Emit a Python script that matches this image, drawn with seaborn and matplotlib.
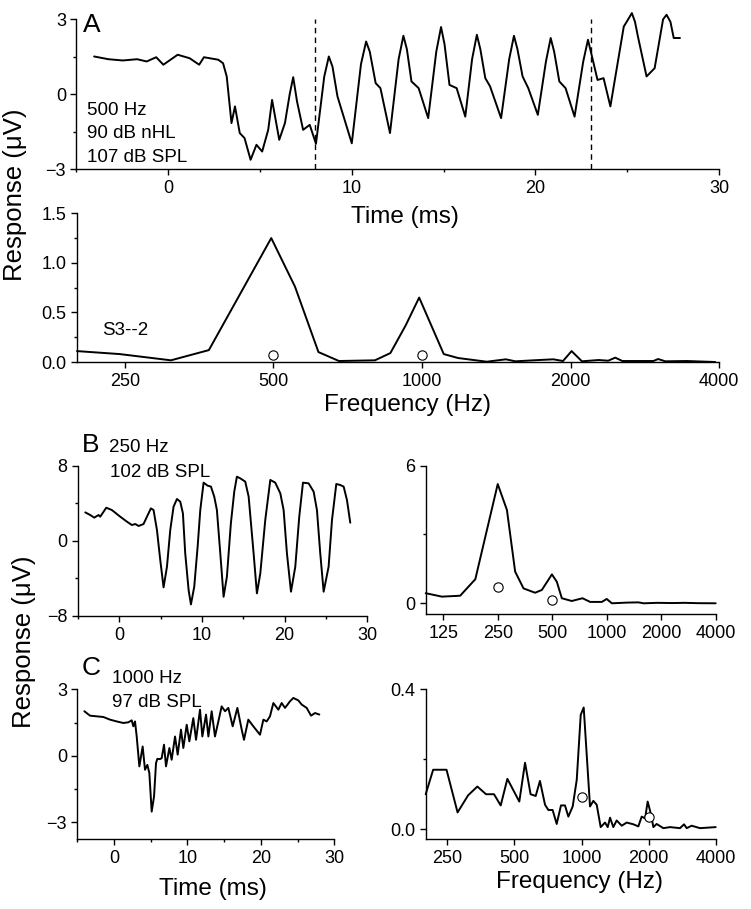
import numpy as np
import pandas as pd
import matplotlib
matplotlib.use("Agg")
import matplotlib.pyplot as plt
from matplotlib.ticker import NullLocator, FixedLocator
import seaborn as sns

# ---------------- data ----------------
# Panel A: 500 Hz waveform
a_time = [-4.03, -3.25, -2.47, -1.69, -1.17, -0.65, -0.26, 0.52, 1.17, 1.69, 1.95, 2.73, 2.99, 3.19, 3.45,
          3.64, 3.9, 4.16, 4.49, 4.81, 5.12, 5.45, 5.66, 6.05, 6.36, 6.62, 6.81, 7.02, 7.35, 7.71, 8.05,
          8.5, 8.75, 8.95, 9.22, 10.0, 10.5, 10.78, 10.98, 11.3, 11.56, 12.08, 12.55, 12.81, 13.0, 13.25,
          13.64, 14.16, 14.6, 14.86, 15.05, 15.32, 15.71, 16.18, 16.55, 16.81, 17.0, 17.27, 17.53, 18.13,
          18.57, 18.83, 19.02, 19.3, 19.61, 20.13, 20.57, 20.83, 21.02, 21.3, 21.64, 22.13, 22.6, 22.86,
          23.05, 23.38, 23.71, 24.08, 24.81, 25.05, 25.25, 25.42, 25.58, 26.05, 26.49, 26.95, 27.14, 27.35,
          27.53, 27.87]
a_resp = [1.51, 1.40, 1.35, 1.40, 1.31, 1.48, 1.18, 1.58, 1.44, 1.18, 1.48, 1.38, 1.24, 0.71, -1.16,
          -0.49, -1.56, -1.76, -2.63, -2.03, -2.30, -1.43, -0.23, -1.83, -1.16, 0.0, 0.68, -0.3, -1.43,
          -1.23, -1.99, 0.7, 1.51, 1.1, -0.09, -1.97, 1.2, 2.11, 1.7, 0.44, 0.24, -1.56, 1.4, 2.34, 1.8,
          0.51, 0.24, -0.96, 1.7, 2.69, 2.0, 0.37, 0.24, -0.90, 1.4, 2.38, 1.8, 0.64, 0.31, -0.96, 1.4,
          2.34, 1.8, 0.71, 0.24, -0.83, 1.3, 2.25, 1.7, 0.51, 0.24, -0.90, 1.3, 2.18, 1.6, 0.57, 0.64,
          -0.49, 2.71, 3.0, 3.25, 2.9, 2.31, 0.71, 1.04, 3.0, 3.18, 2.9, 2.25, 2.25]
a_window = [8, 23]

# Panel A: spectrum
a_freq = [200, 244, 310, 370, 495, 553, 617, 679, 803, 863, 927, 987, 1107, 1184, 1353, 1479, 1546,
          1727, 1846, 1931, 2010, 2109, 2280, 2384, 2464, 2547, 2944, 3010, 3112, 3439, 3929]
a_amp = [0.11, 0.08, 0.017, 0.12, 1.25, 0.76, 0.10, 0.01, 0.017, 0.09, 0.37, 0.65, 0.08, 0.04, 0.003,
         0.027, 0.007, 0.02, 0.027, 0.01, 0.11, 0.007, 0.02, 0.013, 0.044, 0.01, 0.01, 0.03, 0.007, 0.01, 0.0]
a_noise_freq = [500, 1000]
a_noise_amp = [0.07, 0.07]

# Panel B: 250 Hz waveform
b_time = [-4.11, -3.51, -3.02, -2.5, -2.3, -1.57, -0.89, 0.12, 0.93, 1.53, 1.94, 2.34, 2.94, 3.35, 3.83,
          4.15, 4.56, 4.96, 5.36, 5.77, 6.17, 6.57, 6.98, 7.38, 7.7, 7.98, 8.39, 8.67, 9.07, 9.48, 9.8,
          10.2, 10.69, 11.09, 11.49, 11.81, 12.22, 12.62, 13.02, 13.5, 13.91, 14.23, 14.64, 15.24, 15.65,
          16.25, 16.65, 17.06, 17.66, 18.27, 18.87, 19.48, 19.88, 20.28, 20.77, 21.29, 21.77, 22.22, 22.9,
          23.51, 23.91, 24.31, 24.72, 25.32, 25.73, 26.25, 26.73, 27.14, 27.54, 27.94]
b_resp = [3.02, 2.74, 2.46, 2.74, 2.56, 3.52, 3.27, 2.56, 2.03, 1.67, 1.78, 1.57, 1.78, 2.56, 3.45,
          3.27, 1.14, -2.06, -4.98, -2.78, 1.14, 3.63, 4.45, 4.16, 2.92, -1.35, -5.27, -6.80, -4.91, -0.64,
          3.27, 6.19, 5.87, 5.77, 4.70, 3.27, -1.35, -5.98, -3.84, 1.85, 5.23, 6.83, 6.65, 6.30, 4.70,
          -1.35, -5.62, -3.49, 2.21, 6.48, 6.19, 5.05, 3.27, -1.35, -5.44, -2.78, 2.56, 6.19, 6.12, 5.23,
          3.27, -1.35, -5.44, -2.78, 2.21, 6.05, 5.94, 5.77, 4.34, 1.92]

# Panel B: spectrum
b_freq = [100, 123, 155, 188, 250, 281, 312, 347, 402, 438, 498, 530, 565, 641, 735, 810, 940, 1000,
          1067, 1291, 1497, 1600, 1900, 2300, 2700, 3200, 4000]
b_amp = [0.44, 0.29, 0.33, 1.05, 5.20, 4.07, 1.38, 0.65, 0.46, 0.58, 1.26, 0.94, 0.22, 0.10, 0.22, 0.06,
         0.06, 0.19, 0.0, 0.03, 0.04, 0.0, 0.02, 0.01, 0.02, 0.005, 0.0]
b_noise_freq = [250, 500]
b_noise_amp = [0.73, 0.15]

# Panel C: 1000 Hz waveform
c_time = [-4.04, -3.27, -2.36, -1.45, -0.54, 0.36, 1.27, 1.95, 2.41, 2.63, 2.86, 3.09, 3.45, 3.9, 4.22,
          4.54, 4.81, 5.13, 5.45, 5.72, 5.9, 6.26, 6.49, 6.81, 7.08, 7.54, 7.85, 8.31, 8.67, 9.12, 9.44,
          9.9, 10.26, 10.8, 11.17, 11.71, 12.03, 12.53, 12.85, 13.3, 13.75, 14.21, 14.66, 15.12, 15.57,
          16.16, 16.8, 17.39, 17.7, 18.29, 18.97, 19.88, 20.34, 20.79, 21.24, 21.7, 22.38, 22.83, 23.29,
          23.97, 24.42, 25.1, 25.56, 26.24, 26.83, 27.37, 27.96]
c_resp = [2.01, 1.81, 1.78, 1.75, 1.63, 1.55, 1.48, 1.51, 1.60, 1.33, 1.55, 0.87, -0.48, 0.42, -0.63,
          -0.41, -0.78, -2.52, -1.84, -0.33, -0.14, -0.15, -0.11, 0.50, -0.48, 0.35, -0.18, 0.87, 0.05,
          1.18, 0.35, 1.40, 0.65, 1.70, 0.72, 2.08, 0.87, 1.86, 0.87, 2.01, 0.87, 1.55, 2.23, 2.01, 2.16,
          1.33, 2.16, 1.18, 0.72, 1.63, 1.33, 0.95, 1.63, 1.55, 1.78, 2.38, 2.08, 2.38, 2.16, 2.46, 2.61,
          2.50, 2.31, 2.16, 1.81, 1.93, 1.86]

# Panel C: spectrum
c_freq = [200, 216, 248, 278, 310, 341, 373, 405, 434, 465, 526, 558, 591, 623, 651, 686, 710, 742, 774,
          809, 843, 873, 913, 952, 992, 1023, 1092, 1130, 1170, 1219, 1275, 1311, 1343, 1389, 1438, 1515,
          1595, 1709, 1799, 1862, 1928, 1981, 2043, 2101, 2173, 2329, 2495, 2767, 2884, 2965, 3121, 3400, 4000]
c_amp = [0.10, 0.17, 0.17, 0.048, 0.097, 0.122, 0.10, 0.10, 0.068, 0.144, 0.079, 0.19, 0.10, 0.095,
         0.138, 0.070, 0.055, 0.055, 0.015, 0.068, 0.068, 0.036, 0.065, 0.141, 0.327, 0.348, 0.065, 0.081,
         0.07, 0.006, 0.019, 0.006, 0.033, 0.006, 0.025, 0.010, 0.019, 0.014, 0.008, 0.036, 0.031, 0.079,
         0.046, 0.006, 0.015, 0.003, 0.006, 0.003, 0.014, 0.003, 0.010, 0.003, 0.006]
c_noise_freq = [1000, 2000]
c_noise_amp = [0.093, 0.036]

freq_ticks_a = [250, 500, 1000, 2000, 4000]
freq_ticks_b = [125, 250, 500, 1000, 2000, 4000]

# ---------------- style ----------------
sns.set_style("ticks")
plt.rcParams['font.family'] = ['Liberation Sans', 'DejaVu Sans']
plt.rcParams.update({
    'axes.linewidth': 1.0,
    'xtick.major.width': 1.0, 'ytick.major.width': 1.0,
    'xtick.minor.width': 1.0, 'ytick.minor.width': 1.0,
    'xtick.major.size': 4.5, 'ytick.major.size': 4.5,
    'xtick.minor.size': 2.5, 'ytick.minor.size': 2.5,
    'xtick.color': 'black', 'ytick.color': 'black',
    'xtick.labelcolor': 'black', 'ytick.labelcolor': 'black',
    'axes.edgecolor': 'black', 'text.color': 'black', 'axes.labelcolor': 'black',
})

W, H = 751, 909
fig = plt.figure(figsize=(W / 100, H / 100), dpi=100)


def add_ax(x0, y0, x1, y1):
    return fig.add_axes([x0 / W, 1 - y1 / H, (x1 - x0) / W, (y1 - y0) / H])


def ftext(x, y, s, **kw):
    fig.text(x / W, 1 - y / H, s, color='black', **kw)


LW = 1.4
TICK_FS = 13


def style_ax(ax):
    sns.despine(ax=ax)
    ax.tick_params(axis='both', which='both', direction='out', labelsize=TICK_FS,
                   colors='black', labelcolor='black')
    ax.tick_params(axis='x', pad=3.5)
    ax.tick_params(axis='y', pad=3)


def wave_ax(ax, t, r, ylim, ymaj, ymin):
    df = pd.DataFrame({'t': t, 'r': r})
    sns.lineplot(data=df, x='t', y='r', ax=ax, color='black', lw=LW, clip_on=False)
    ax.set_xlim(-5, 30)
    ax.set_ylim(*ylim)
    ax.xaxis.set_major_locator(FixedLocator([0, 10, 20, 30]))
    ax.xaxis.set_minor_locator(FixedLocator([-5, 5, 15, 25]))
    ax.yaxis.set_major_locator(FixedLocator(ymaj))
    ax.yaxis.set_minor_locator(FixedLocator(ymin))
    ax.set_xlabel('')
    ax.set_ylabel('')
    style_ax(ax)


def spec_ax(ax, f, a, nf, na, xlim, xt, ylim, ymaj, ymin, ylabels):
    df = pd.DataFrame({'f': f, 'a': a})
    sns.lineplot(data=df, x='f', y='a', ax=ax, color='black', lw=LW, clip_on=False)
    dn = pd.DataFrame({'f': nf, 'a': na})
    sns.scatterplot(data=dn, x='f', y='a', ax=ax, marker='o', s=45, facecolor='white',
                    edgecolor='black', linewidth=0.8, zorder=5)
    ax.set_xscale('log', base=2)
    ax.set_xlim(*xlim)
    ax.set_xticks(xt)
    ax.set_xticklabels([str(v) for v in xt])
    ax.xaxis.set_minor_locator(NullLocator())
    ax.set_ylim(*ylim)
    ax.yaxis.set_major_locator(FixedLocator(ymaj))
    ax.set_yticklabels(ylabels)
    ax.yaxis.set_minor_locator(FixedLocator(ymin))
    ax.set_xlabel('')
    ax.set_ylabel('')
    style_ax(ax)


# Panel A waveform
axA = add_ax(76.3, 19.3, 719.1, 169)
wave_ax(axA, a_time, a_resp, (-3, 3), [-3, 0, 3], [-1.5, 1.5])
for xv in a_window:
    axA.axvline(xv, color='black', lw=1.0, ls=(0, (4, 3)))

# Panel A spectrum
axAs = add_ax(77, 213.3, 719.1, 362)
spec_ax(axAs, a_freq, a_amp, a_noise_freq, a_noise_amp, (200, 4000), freq_ticks_a,
        (0, 1.5), [0, 0.5, 1.0, 1.5], [0.25, 0.75, 1.25], ['0.0', '0.5', '1.0', '1.5'])

# Panel B
axB = add_ax(77.9, 465.7, 367.3, 615.7)
wave_ax(axB, b_time, b_resp, (-8, 8), [-8, 0, 8], [-4, 4])
axBs = add_ax(425.7, 465.7, 715.7, 614.3)
spec_ax(axBs, b_freq, b_amp, b_noise_freq, b_noise_amp, (100, 4000), freq_ticks_b,
        (-0.48, 6), [0, 6], [3], ['0', '6'])

# Panel C
axC = add_ax(77.3, 689.3, 334.3, 839.3)
wave_ax(axC, c_time, c_resp, (-3.77, 3), [-3, 0, 3], [-1.5, 1.5])
axCs = add_ax(425.7, 689.3, 715.7, 839)
spec_ax(axCs, c_freq, c_amp, c_noise_freq, c_noise_amp, (200, 4000), freq_ticks_a,
        (-0.028, 0.4), [0.0, 0.4], [0.2], ['0.0', '0.4'])

# ---------------- text ----------------
LAB_FS = 17.5
ANN_FS = 13.5
LET_FS = 19

ftext(83, 32, 'A', fontsize=LET_FS, va='baseline', ha='left')
ftext(87, 115, '500 Hz', fontsize=ANN_FS, va='baseline')
ftext(87, 138.5, '90 dB nHL', fontsize=ANN_FS, va='baseline')
ftext(87, 162, '107 dB SPL', fontsize=ANN_FS, va='baseline')
ftext(102.5, 335, 'S3--2', fontsize=ANN_FS, va='baseline')

ftext(82, 452, 'B', fontsize=LET_FS, va='baseline')
ftext(109, 452, '250 Hz', fontsize=ANN_FS, va='baseline')
ftext(110, 477, '102 dB SPL', fontsize=ANN_FS, va='baseline')

ftext(82, 675, 'C', fontsize=LET_FS, va='baseline')
ftext(112, 683, '1000 Hz', fontsize=ANN_FS, va='baseline')
ftext(112, 707, '97 dB SPL', fontsize=ANN_FS, va='baseline')

ftext(405, 223, 'Time (ms)', fontsize=LAB_FS, va='baseline', ha='center')
ftext(408, 411.5, 'Frequency (Hz)', fontsize=LAB_FS, va='baseline', ha='center')
ftext(213, 895, 'Time (ms)', fontsize=LAB_FS, va='baseline', ha='center')
ftext(580, 888, 'Frequency (Hz)', fontsize=LAB_FS, va='baseline', ha='center')

ftext(15, 195, 'Response (\u03bcV)', fontsize=18.5, rotation=90, va='center', ha='center')
ftext(24, 642, 'Response (\u03bcV)', fontsize=18.5, rotation=90, va='center', ha='center')

fig.savefig('out.png', dpi=100)
